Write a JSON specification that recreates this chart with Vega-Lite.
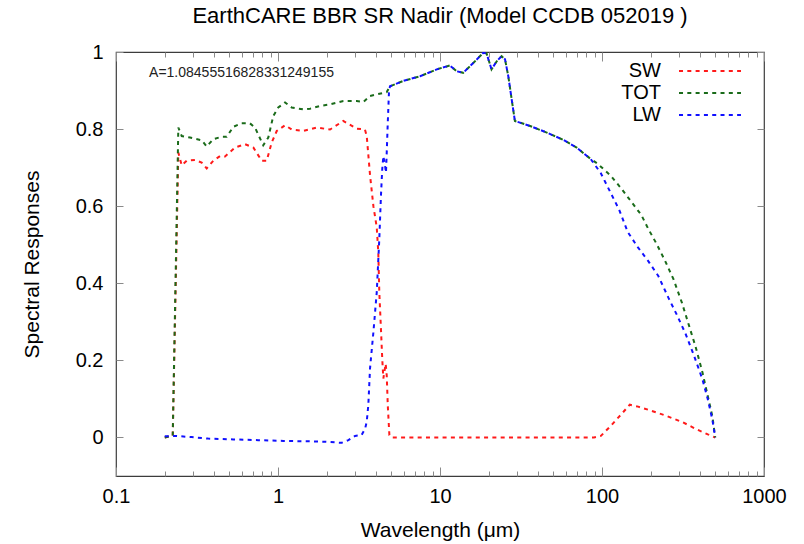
{
  "$schema": "https://vega.github.io/schema/vega-lite/v6.json",
  "width": 648,
  "height": 424,
  "autosize": {"type": "none"},
  "padding": {"left": 116, "top": 52, "right": 40, "bottom": 68},
  "background": "white",
  "title": {"text": "EarthCARE BBR SR Nadir (Model CCDB 052019 )", "font": "Liberation Sans", "fontSize": 22, "fontWeight": "normal", "color": "#000000", "anchor": "middle", "offset": 14},
  "config": {
    "view": {"stroke": "#3c3c3c", "strokeWidth": 1.2},
    "axis": {"grid": false, "domain": false, "labelFont": "Liberation Sans", "labelFontSize": 20, "labelColor": "#000000", "titleFont": "Liberation Sans", "titleFontSize": 21, "titleFontWeight": "normal", "titleColor": "#000000", "tickColor": "#8a8a8a", "tickWidth": 1}
  },
  "datasets": {
    "d": [
      {"s": "SW", "x": 0.2, "y": 0},
      {"s": "SW", "x": 0.224, "y": 0.005},
      {"s": "SW", "x": 0.2425, "y": 0.739},
      {"s": "SW", "x": 0.2544, "y": 0.706},
      {"s": "SW", "x": 0.273, "y": 0.718},
      {"s": "SW", "x": 0.3075, "y": 0.72},
      {"s": "SW", "x": 0.338, "y": 0.713},
      {"s": "SW", "x": 0.363, "y": 0.698},
      {"s": "SW", "x": 0.399, "y": 0.718},
      {"s": "SW", "x": 0.4385, "y": 0.73},
      {"s": "SW", "x": 0.471, "y": 0.729},
      {"s": "SW", "x": 0.543, "y": 0.752},
      {"s": "SW", "x": 0.625, "y": 0.761},
      {"s": "SW", "x": 0.705, "y": 0.752},
      {"s": "SW", "x": 0.793, "y": 0.718},
      {"s": "SW", "x": 0.852, "y": 0.718},
      {"s": "SW", "x": 0.914, "y": 0.765},
      {"s": "SW", "x": 0.982, "y": 0.795},
      {"s": "SW", "x": 1.105, "y": 0.81},
      {"s": "SW", "x": 1.215, "y": 0.799},
      {"s": "SW", "x": 1.433, "y": 0.795},
      {"s": "SW", "x": 1.734, "y": 0.804},
      {"s": "SW", "x": 2.095, "y": 0.799},
      {"s": "SW", "x": 2.531, "y": 0.821},
      {"s": "SW", "x": 3.06, "y": 0.801},
      {"s": "SW", "x": 3.44, "y": 0.799},
      {"s": "SW", "x": 3.53, "y": 0.782},
      {"s": "SW", "x": 3.7, "y": 0.68},
      {"s": "SW", "x": 3.88, "y": 0.6},
      {"s": "SW", "x": 4.07, "y": 0.545},
      {"s": "SW", "x": 4.16, "y": 0.48},
      {"s": "SW", "x": 4.22, "y": 0.377},
      {"s": "SW", "x": 4.31, "y": 0.291},
      {"s": "SW", "x": 4.4, "y": 0.204},
      {"s": "SW", "x": 4.47, "y": 0.153},
      {"s": "SW", "x": 4.62, "y": 0.191},
      {"s": "SW", "x": 4.69, "y": 0.161},
      {"s": "SW", "x": 4.76, "y": 0.084},
      {"s": "SW", "x": 4.87, "y": 0.006},
      {"s": "SW", "x": 5.02, "y": 0},
      {"s": "SW", "x": 10, "y": 0},
      {"s": "SW", "x": 50, "y": 0},
      {"s": "SW", "x": 89.3, "y": 0},
      {"s": "SW", "x": 98.4, "y": 0.004},
      {"s": "SW", "x": 113.8, "y": 0.031},
      {"s": "SW", "x": 131.5, "y": 0.06},
      {"s": "SW", "x": 148.4, "y": 0.085},
      {"s": "SW", "x": 167, "y": 0.08},
      {"s": "SW", "x": 193, "y": 0.072},
      {"s": "SW", "x": 246, "y": 0.057},
      {"s": "SW", "x": 313, "y": 0.04},
      {"s": "SW", "x": 380, "y": 0.022},
      {"s": "SW", "x": 450, "y": 0.008},
      {"s": "SW", "x": 500, "y": 0},
      {"s": "TOT", "x": 0.2, "y": 0},
      {"s": "TOT", "x": 0.224, "y": 0.005},
      {"s": "TOT", "x": 0.2425, "y": 0.804},
      {"s": "TOT", "x": 0.2544, "y": 0.782},
      {"s": "TOT", "x": 0.2862, "y": 0.778},
      {"s": "TOT", "x": 0.338, "y": 0.771},
      {"s": "TOT", "x": 0.363, "y": 0.755},
      {"s": "TOT", "x": 0.399, "y": 0.774},
      {"s": "TOT", "x": 0.449, "y": 0.78},
      {"s": "TOT", "x": 0.482, "y": 0.78},
      {"s": "TOT", "x": 0.53, "y": 0.806},
      {"s": "TOT", "x": 0.597, "y": 0.815},
      {"s": "TOT", "x": 0.671, "y": 0.815},
      {"s": "TOT", "x": 0.721, "y": 0.804},
      {"s": "TOT", "x": 0.811, "y": 0.758},
      {"s": "TOT", "x": 0.871, "y": 0.778},
      {"s": "TOT", "x": 0.935, "y": 0.834},
      {"s": "TOT", "x": 1.004, "y": 0.856},
      {"s": "TOT", "x": 1.105, "y": 0.869},
      {"s": "TOT", "x": 1.215, "y": 0.856},
      {"s": "TOT", "x": 1.433, "y": 0.851},
      {"s": "TOT", "x": 1.577, "y": 0.853},
      {"s": "TOT", "x": 1.817, "y": 0.86},
      {"s": "TOT", "x": 2.095, "y": 0.864},
      {"s": "TOT", "x": 2.531, "y": 0.873},
      {"s": "TOT", "x": 3.06, "y": 0.873},
      {"s": "TOT", "x": 3.36, "y": 0.87},
      {"s": "TOT", "x": 3.7, "y": 0.886},
      {"s": "TOT", "x": 4.69, "y": 0.896},
      {"s": "TOT", "x": 4.91, "y": 0.911},
      {"s": "TOT", "x": 5.93, "y": 0.925},
      {"s": "TOT", "x": 7.53, "y": 0.937},
      {"s": "TOT", "x": 9.55, "y": 0.955},
      {"s": "TOT", "x": 11.5, "y": 0.965},
      {"s": "TOT", "x": 12.7, "y": 0.95},
      {"s": "TOT", "x": 13.9, "y": 0.946},
      {"s": "TOT", "x": 16.1, "y": 0.972},
      {"s": "TOT", "x": 18.5, "y": 0.998},
      {"s": "TOT", "x": 19.4, "y": 0.996},
      {"s": "TOT", "x": 20.8, "y": 0.955},
      {"s": "TOT", "x": 22.4, "y": 0.976},
      {"s": "TOT", "x": 24.0, "y": 0.989},
      {"s": "TOT", "x": 25.2, "y": 0.981},
      {"s": "TOT", "x": 26.4, "y": 0.937},
      {"s": "TOT", "x": 27.7, "y": 0.877},
      {"s": "TOT", "x": 29.0, "y": 0.821},
      {"s": "TOT", "x": 36.0, "y": 0.808},
      {"s": "TOT", "x": 45.6, "y": 0.791},
      {"s": "TOT", "x": 57.7, "y": 0.772},
      {"s": "TOT", "x": 69.8, "y": 0.752},
      {"s": "TOT", "x": 77.1, "y": 0.737},
      {"s": "TOT", "x": 84.9, "y": 0.723},
      {"s": "TOT", "x": 93.5, "y": 0.711},
      {"s": "TOT", "x": 113.3, "y": 0.679},
      {"s": "TOT", "x": 130.9, "y": 0.647},
      {"s": "TOT", "x": 151.4, "y": 0.612},
      {"s": "TOT", "x": 175, "y": 0.577},
      {"s": "TOT", "x": 192.6, "y": 0.542},
      {"s": "TOT", "x": 217.4, "y": 0.502},
      {"s": "TOT", "x": 245.3, "y": 0.458},
      {"s": "TOT", "x": 276.6, "y": 0.41},
      {"s": "TOT", "x": 311.7, "y": 0.349},
      {"s": "TOT", "x": 343.4, "y": 0.292},
      {"s": "TOT", "x": 378.4, "y": 0.235},
      {"s": "TOT", "x": 416.8, "y": 0.169},
      {"s": "TOT", "x": 450, "y": 0.107},
      {"s": "TOT", "x": 480, "y": 0.055},
      {"s": "TOT", "x": 500, "y": 0},
      {"s": "LW", "x": 0.2, "y": 0.003},
      {"s": "LW", "x": 0.231, "y": 0.004},
      {"s": "LW", "x": 0.293, "y": 0.001},
      {"s": "LW", "x": 0.371, "y": -0.003},
      {"s": "LW", "x": 0.53, "y": -0.005},
      {"s": "LW", "x": 0.755, "y": -0.007},
      {"s": "LW", "x": 1.078, "y": -0.009},
      {"s": "LW", "x": 1.54, "y": -0.01},
      {"s": "LW", "x": 1.95, "y": -0.011},
      {"s": "LW", "x": 2.47, "y": -0.014},
      {"s": "LW", "x": 2.72, "y": -0.007},
      {"s": "LW", "x": 2.99, "y": 0.004},
      {"s": "LW", "x": 3.28, "y": 0.006},
      {"s": "LW", "x": 3.45, "y": 0.023},
      {"s": "LW", "x": 3.53, "y": 0.041},
      {"s": "LW", "x": 3.61, "y": 0.084},
      {"s": "LW", "x": 3.7, "y": 0.18},
      {"s": "LW", "x": 3.88, "y": 0.273},
      {"s": "LW", "x": 4.07, "y": 0.377},
      {"s": "LW", "x": 4.22, "y": 0.515},
      {"s": "LW", "x": 4.32, "y": 0.627},
      {"s": "LW", "x": 4.4, "y": 0.696},
      {"s": "LW", "x": 4.47, "y": 0.73},
      {"s": "LW", "x": 4.58, "y": 0.705},
      {"s": "LW", "x": 4.64, "y": 0.687},
      {"s": "LW", "x": 4.69, "y": 0.739},
      {"s": "LW", "x": 4.76, "y": 0.817},
      {"s": "LW", "x": 4.84, "y": 0.894},
      {"s": "LW", "x": 4.91, "y": 0.911},
      {"s": "LW", "x": 5.93, "y": 0.925},
      {"s": "LW", "x": 7.53, "y": 0.937},
      {"s": "LW", "x": 9.55, "y": 0.955},
      {"s": "LW", "x": 11.5, "y": 0.965},
      {"s": "LW", "x": 12.7, "y": 0.95},
      {"s": "LW", "x": 13.9, "y": 0.946},
      {"s": "LW", "x": 16.1, "y": 0.972},
      {"s": "LW", "x": 18.5, "y": 0.998},
      {"s": "LW", "x": 19.4, "y": 0.996},
      {"s": "LW", "x": 20.8, "y": 0.955},
      {"s": "LW", "x": 22.4, "y": 0.976},
      {"s": "LW", "x": 24.0, "y": 0.989},
      {"s": "LW", "x": 25.2, "y": 0.981},
      {"s": "LW", "x": 26.4, "y": 0.937},
      {"s": "LW", "x": 27.7, "y": 0.877},
      {"s": "LW", "x": 29.0, "y": 0.821},
      {"s": "LW", "x": 36.0, "y": 0.808},
      {"s": "LW", "x": 45.6, "y": 0.791},
      {"s": "LW", "x": 57.7, "y": 0.772},
      {"s": "LW", "x": 69.8, "y": 0.752},
      {"s": "LW", "x": 77.1, "y": 0.737},
      {"s": "LW", "x": 84.9, "y": 0.723},
      {"s": "LW", "x": 98.2, "y": 0.686},
      {"s": "LW", "x": 113.3, "y": 0.634},
      {"s": "LW", "x": 127.9, "y": 0.59},
      {"s": "LW", "x": 144.2, "y": 0.533},
      {"s": "LW", "x": 166.7, "y": 0.493},
      {"s": "LW", "x": 192.6, "y": 0.458},
      {"s": "LW", "x": 222.6, "y": 0.419},
      {"s": "LW", "x": 257.3, "y": 0.362},
      {"s": "LW", "x": 289.9, "y": 0.318},
      {"s": "LW", "x": 327.2, "y": 0.27},
      {"s": "LW", "x": 369.2, "y": 0.213},
      {"s": "LW", "x": 416.8, "y": 0.151},
      {"s": "LW", "x": 450, "y": 0.099},
      {"s": "LW", "x": 480, "y": 0.046},
      {"s": "LW", "x": 500, "y": 0}
    ]
  },
  "resolve": {"axis": {"x": "independent", "y": "independent"}},
  "layer": [
    {
      "data": {"name": "d"},
      "transform": [{"filter": "datum.s === 'SW'"}],
      "mark": {"type": "line", "strokeDash": [4, 4.3], "strokeWidth": 2, "clip": true},
      "encoding": {
        "x": {"field": "x", "type": "quantitative", "scale": {"type": "log", "domain": [0.1, 1000], "nice": false},
          "title": "Wavelength (μm)",
          "axis": {"orient": "bottom", "values": [0.1,0.2,0.3,0.4,0.5,0.6,0.7,0.8,0.9,1,2,3,4,5,6,7,8,9,10,20,30,40,50,60,70,80,90,100,200,300,400,500,600,700,800,900,1000],
            "format": "~g",
            "labelExpr": "abs(log(datum.value)/LN10 - round(log(datum.value)/LN10)) < 0.001 ? datum.label : ''",
            "tickSize": {"condition": {"test": "abs(log(datum.value)/LN10 - round(log(datum.value)/LN10)) < 0.001", "value": -9}, "value": -5},
            "labelPadding": 19, "titlePadding": 9, "labelFlush": false, "labelOverlap": false}},
        "y": {"field": "y", "type": "quantitative", "scale": {"domain": [-0.1, 1], "nice": false, "zero": false},
          "title": "Spectral Responses",
          "axis": {"orient": "left", "values": [0, 0.2, 0.4, 0.6, 0.8, 1], "format": "~g", "tickSize": -7, "labelPadding": 20, "titlePadding": 33}},
        "color": {"field": "s", "type": "nominal",
          "scale": {"domain": ["SW", "TOT", "LW"], "range": ["#ff1a1a", "#1a6b1a", "#1010ff"]},
          "legend": {"title": null, "orient": "none", "legendX": 584, "legendY": 9, "symbolType": "M-4,0H4", "symbolSize": 240, "symbolStrokeWidth": 2, "symbolDash": [4, 4.3], "symbolFillColor": "transparent", "labelFont": "Liberation Sans", "labelFontSize": 20, "labelColor": "#000000", "labelAlign": "right", "labelOffset": -59, "rowPadding": 2, "padding": 0}}
      }
    },
    {
      "data": {"name": "d"},
      "transform": [{"filter": "datum.s === 'TOT'"}],
      "mark": {"type": "line", "strokeDash": [4, 4.3], "strokeWidth": 2, "clip": true},
      "encoding": {
        "x": {"field": "x", "type": "quantitative", "axis": null},
        "y": {"field": "y", "type": "quantitative", "axis": null},
        "color": {"field": "s", "type": "nominal"}
      }
    },
    {
      "data": {"name": "d"},
      "transform": [{"filter": "datum.s === 'LW'"}],
      "mark": {"type": "line", "strokeDash": [4, 4.3], "strokeWidth": 2, "clip": true},
      "encoding": {
        "x": {"field": "x", "type": "quantitative", "axis": null},
        "y": {"field": "y", "type": "quantitative", "axis": null},
        "color": {"field": "s", "type": "nominal"}
      }
    },
    {
      "data": {"values": [{}]},
      "mark": {"type": "text", "font": "Liberation Sans", "fontSize": 14, "align": "left", "baseline": "middle", "color": "#222222"},
      "encoding": {
        "x": {"datum": 0.16, "type": "quantitative", "axis": null},
        "y": {"datum": 0.945, "type": "quantitative", "axis": null},
        "text": {"value": "A=1.08455516828331249155"}
      }
    },
    {
      "data": {"name": "d"},
      "mark": {"type": "point", "opacity": 0},
      "encoding": {
        "x": {"field": "x", "type": "quantitative",
          "axis": {"orient": "top", "title": null, "labels": false, "values": [0.1,0.2,0.3,0.4,0.5,0.6,0.7,0.8,0.9,1,2,3,4,5,6,7,8,9,10,20,30,40,50,60,70,80,90,100,200,300,400,500,600,700,800,900,1000],
            "tickSize": {"condition": {"test": "abs(log(datum.value)/LN10 - round(log(datum.value)/LN10)) < 0.001", "value": -9}, "value": -5}}},
        "y": {"field": "y", "type": "quantitative",
          "axis": {"orient": "right", "title": null, "labels": false, "values": [0, 0.2, 0.4, 0.6, 0.8, 1], "tickSize": -7}}
      }
    }
  ]
}
